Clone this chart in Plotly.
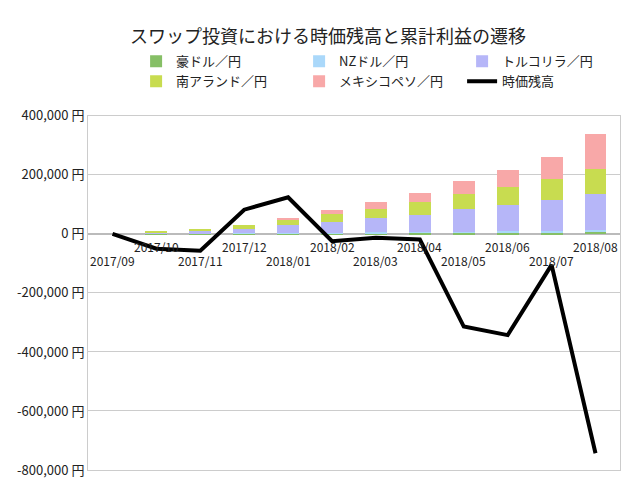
import plotly.graph_objects as go

months = ["2017/09","2017/10","2017/11","2017/12","2018/01","2018/02","2018/03","2018/04","2018/05","2018/06","2018/07","2018/08"]
aud = [0, 500, 800, 1000, 1500, 2000, 3000, 4000, 5000, 6000, 6000, 8000]
nzd = [0, 300, 500, 700, 1000, 1500, 2000, 2000, 3000, 3000, 4000, 4000]
tryl = [0, 5000, 9000, 16000, 27000, 38000, 48000, 59000, 75000, 89000, 105000, 123000]
zar = [0, 4000, 8000, 14000, 20000, 26000, 33000, 43000, 52000, 62000, 71000, 85000]
mxn = [0, 0, 0, 0, 5000, 12000, 22000, 31000, 44000, 58000, 75000, 120000]
balance = [0, -50000, -57000, 82000, 124000, -25000, -13000, -19000, -314000, -343000, -105000, -743000]
yticks = [400000, 200000, 0, -200000, -400000, -600000, -800000]

font = "Noto Sans CJK JP"
fig = go.Figure()
for name, vals, col in [("豪ドル／円", aud, "#86bf66"), ("NZドル／円", nzd, "#aad8fa"),
                        ("トルコリラ／円", tryl, "#b6b6f8"), ("南アランド／円", zar, "#c8dc50"),
                        ("メキシコペソ／円", mxn, "#f8a8a8")]:
    fig.add_trace(go.Bar(x=months, y=vals, name=name, marker_color=col, marker_line_width=0))
fig.add_trace(go.Scatter(x=months, y=balance, name="時価残高", mode="lines",
                         line=dict(color="black", width=4)))

for i, m in enumerate(months):
    fig.add_annotation(x=m, y=0, text=m, showarrow=False, yanchor="top",
                       yshift=-2 if i % 2 == 1 else -16, font=dict(size=12, color="#222"))

fig.update_layout(
    width=640, height=480, barmode="stack", bargap=0.5,
    paper_bgcolor="white", plot_bgcolor="white",
    font=dict(family=font, size=12, color="#222"),
    title=dict(text="スワップ投資における時価残高と累計利益の遷移", x=0.5, xanchor="center",
               y=0.94, yanchor="middle", font=dict(size=18), automargin=False),
    margin=dict(l=75, r=28, t=93, b=9),
    legend=dict(orientation="h", x=0.55, xanchor="center", yref="container", y=0.92, yanchor="top",
                entrywidth=118, font=dict(size=13), traceorder="normal",
                tracegroupgap=0, itemwidth=30),
    showlegend=True,
)
fig.update_xaxes(showticklabels=False, showgrid=False, showline=True, mirror=True,
                 linecolor="#ccc", ticks="")
fig.update_yaxes(range=[-800000, 400000], tickvals=yticks,
                 ticktext=[f"{v:,} 円" for v in yticks], gridcolor="#ccc",
                 zeroline=True, zerolinecolor="#bbb", showline=True, mirror=True,
                 linecolor="#ccc", tickfont=dict(size=13))
fig.write_html("out.html")
